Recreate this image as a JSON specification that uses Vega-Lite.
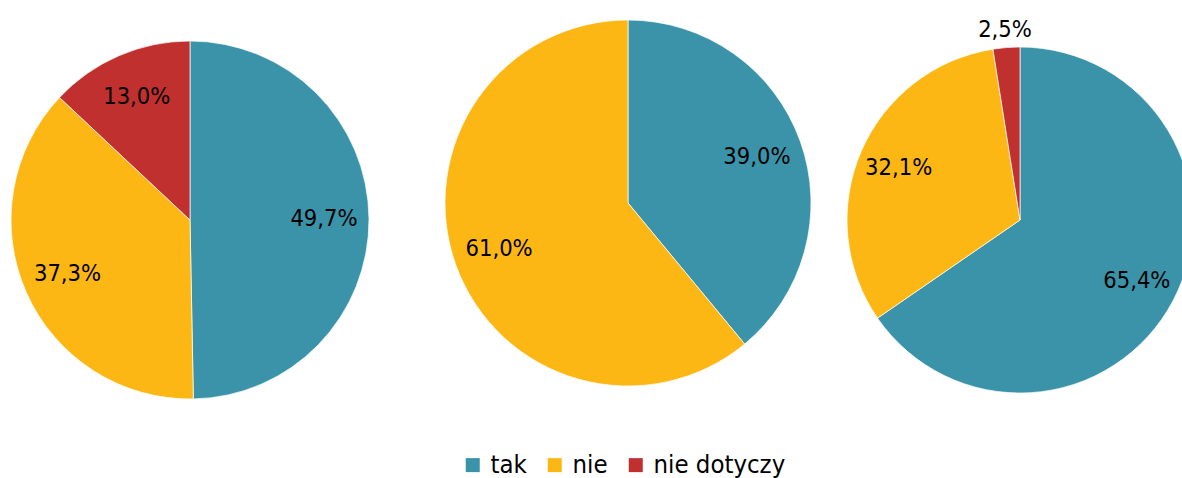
{
  "$schema": "https://vega.github.io/schema/vega-lite/v6.json",
  "padding": 0,
  "spacing": 0,
  "bounds": "flush",
  "background": "white",
  "config": {
    "view": {"stroke": null},
    "font": "DejaVu Sans Condensed",
    "legend": {
      "orient": "none",
      "legendX": 460,
      "legendY": 452,
      "direction": "horizontal",
      "title": null,
      "symbolType": "square",
      "symbolSize": 196,
      "symbolStrokeWidth": 0,
      "symbolOpacity": 1,
      "labelFontSize": 25.5,
      "labelFont": "DejaVu Sans Condensed",
      "labelColor": "#000000",
      "labelOffset": 5,
      "columnPadding": 15
    }
  },
  "data": {
    "values": [
      {"chart": 1, "category": "tak", "value": 49.7},
      {"chart": 1, "category": "nie", "value": 37.3},
      {"chart": 1, "category": "nie dotyczy", "value": 13.0},
      {"chart": 2, "category": "tak", "value": 39.0},
      {"chart": 2, "category": "nie", "value": 61.0},
      {"chart": 3, "category": "tak", "value": 65.4},
      {"chart": 3, "category": "nie", "value": 32.1},
      {"chart": 3, "category": "nie dotyczy", "value": 2.5}
    ]
  },
  "transform": [
    {"calculate": "indexof(['tak','nie','nie dotyczy'], datum.category)", "as": "ord"},
    {"calculate": "replace(format(datum.value, '.1f'), '.', ',') + '%'", "as": "lbl"}
  ],
  "hconcat": [
    {
      "width": 380,
      "height": 440,
      "transform": [{"filter": "datum.chart == 1"}],
      "encoding": {
        "theta": {"field": "value", "type": "quantitative", "stack": true},
        "order": {"field": "ord", "type": "quantitative"},
        "color": {
          "field": "category",
          "type": "nominal",
          "scale": {"domain": ["tak", "nie", "nie dotyczy"], "range": ["#3a93a8", "#fdb714", "#c0302f"]},
          "sort": ["tak", "nie", "nie dotyczy"]
        }
      },
      "layer": [
        {"mark": {"type": "arc", "radius": 179, "stroke": "white", "strokeWidth": 0.7}},
        {"mark": {"type": "text", "radius": 134, "fontSize": 23.5, "color": "#000000"},
         "encoding": {"text": {"field": "lbl"}, "color": {"value": "#000000"}}}
      ]
    },
    {
      "width": 496,
      "height": 406,
      "transform": [{"filter": "datum.chart == 2"}],
      "encoding": {
        "theta": {"field": "value", "type": "quantitative", "stack": true},
        "order": {"field": "ord", "type": "quantitative"},
        "color": {
          "field": "category",
          "type": "nominal",
          "scale": {"domain": ["tak", "nie", "nie dotyczy"], "range": ["#3a93a8", "#fdb714", "#c0302f"]},
          "sort": ["tak", "nie", "nie dotyczy"]
        }
      },
      "layer": [
        {"mark": {"type": "arc", "radius": 183, "stroke": "white", "strokeWidth": 0.7}},
        {"mark": {"type": "text", "radius": 137, "fontSize": 23.5, "color": "#000000"},
         "encoding": {"text": {"field": "lbl"}, "color": {"value": "#000000"}}}
      ]
    },
    {
      "width": 288,
      "height": 440,
      "transform": [{"filter": "datum.chart == 3"}],
      "encoding": {
        "theta": {"field": "value", "type": "quantitative", "stack": true},
        "order": {"field": "ord", "type": "quantitative"},
        "color": {
          "field": "category",
          "type": "nominal",
          "scale": {"domain": ["tak", "nie", "nie dotyczy"], "range": ["#3a93a8", "#fdb714", "#c0302f"]},
          "sort": ["tak", "nie", "nie dotyczy"]
        }
      },
      "layer": [
        {"mark": {"type": "arc", "radius": 173, "stroke": "white", "strokeWidth": 0.7}},
        {"mark": {"type": "text", "radius": {"expr": "datum.value < 5 ? 191 : 132"}, "fontSize": 23.5, "color": "#000000"},
         "encoding": {"text": {"field": "lbl"}, "color": {"value": "#000000"}}}
      ]
    }
  ]
}
